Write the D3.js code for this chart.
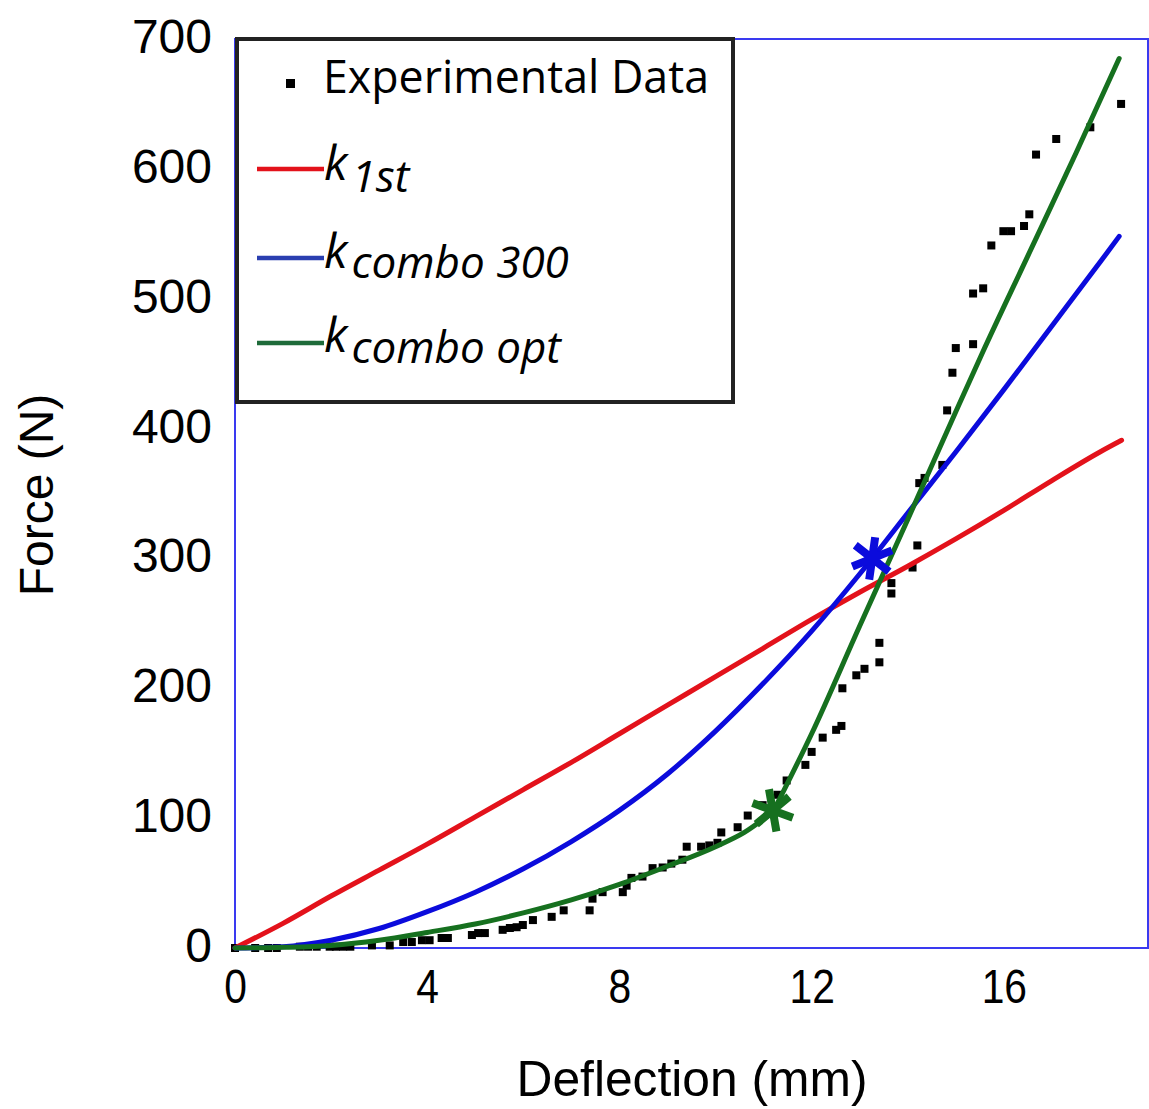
<!DOCTYPE html>
<html>
  <head>
    <script src="https://d3js.org/d3.v7.min.js"></script>
    <style>
      body { margin: 0; background: #fff; }
      .tick text { font-family: "Liberation Sans", Arial, sans-serif; fill: #000; }
      .legend text { font-family: "Open Sans", "Noto Sans", sans-serif; fill: #000; }
    </style>
  </head>
  <body>
    <svg width="1149" height="1109"></svg>
    <script>
      // tick values
      var xTicks = [0, 4, 8, 12, 16];
      var yTicks = [0, 100, 200, 300, 400, 500, 600, 700];

      // k 1st (deflection mm, force N)
      var k1stX = [0, 1, 2, 3, 4, 5, 6, 7, 8, 9, 10, 11, 12, 13, 14, 15, 16, 17, 18, 18.45];
      var k1stY = [0, 19, 40, 60, 80, 101, 122, 143, 165, 187, 209, 231, 253, 274, 294, 315, 337, 360, 382, 391];

      // k combo 300
      var combo300X = [0, 1, 2, 3, 4, 5, 6, 7, 8, 9, 10, 11, 12, 13, 14, 15, 16, 17, 18, 18.4];
      var combo300Y = [0, 1, 6, 15, 28, 43, 61, 82, 106, 134, 167, 204, 244, 288, 335, 382, 430, 479, 528, 548];

      // k combo opt (lower part up to the star, then upper part)
      var comboOptLowX = [0, 1, 2, 3, 4, 5, 6, 7, 8, 9, 10, 10.6, 11.2];
      var comboOptLowY = [0, 0.5, 2, 6, 12, 18.5, 27, 37, 49, 63, 78, 89, 105];
      var comboOptHighX = [11.2, 12, 13, 14, 15, 15.55, 16.5, 17.5, 18.4];
      var comboOptHighY = [105, 165, 248, 330, 413, 458, 533, 612, 685];

      // star markers
      var starCombo300 = [13.26, 300];
      var starComboOpt = [11.19, 106];

      // experimental data
      var expX = [0, 0.42, 0.69, 0.87, 1.35, 1.52, 1.7, 1.97, 2.1, 2.25, 2.4, 2.85, 3.22, 3.5, 3.68, 3.89, 4.05, 4.3, 4.43,
                  4.93, 5.06, 5.2, 5.57, 5.72, 5.86, 5.99, 6.2, 6.59, 6.84, 7.38, 7.44, 7.65, 8.07, 8.15, 8.25, 8.48, 8.69,
                  8.9, 9.08, 9.31, 9.4, 9.7, 9.87, 10.04, 10.12, 10.46, 10.67, 10.98, 11.29, 11.48, 11.87, 12.0, 12.23,
                  12.51, 12.62, 12.64, 12.93, 13.1, 13.41, 13.41, 13.66, 13.66, 14.1, 14.2, 14.24, 14.35, 14.72, 14.82,
                  14.93, 15.0, 15.36, 15.36, 15.57, 15.74, 15.99, 16.15, 16.42, 16.53, 16.67, 17.09, 17.8, 18.44];
      var expY = [0, 0, 0, 0, 1, 1, 1, 1, 1, 1, 1, 2, 2, 4.6, 4.6, 6, 6, 7.7, 7.7,
                  10, 11.5, 11.5, 14, 15.4, 16, 17.7, 21.5, 24, 29, 29, 38, 43, 43, 48, 54, 55, 61.5,
                  62, 65, 68, 78, 78, 79, 81, 89, 93, 102, 110, 118, 129, 141, 151, 162,
                  168, 171, 200, 210, 215, 220, 235, 273, 281, 293, 310, 358, 362, 372, 414,
                  443, 462, 465, 504, 508, 541, 552, 552, 556, 565, 611, 623, 632, 650];

      var svg = d3.select("svg");
      var mLeft = 235, mTop = 39, mRight = 1148, mBottom = 948;

      var x = d3.scaleLinear().domain([0, 19]).range([mLeft, mRight]);
      var y = d3.scaleLinear().domain([0, 700]).range([mBottom, mTop]);

      var red = "#e3121b", blue = "#0b0bdc", green = "#16701f";

      // Rahmen
      svg.append("rect")
          .attr("x", mLeft).attr("y", mTop)
          .attr("width", mRight - mLeft).attr("height", mBottom - mTop)
          .attr("fill", "none").attr("stroke", "#3a3af0").attr("stroke-width", 2);

      // Achsen
      var yAxis = svg.append("g")
          .attr("transform", "translate(" + mLeft + ",0)")
          .call(d3.axisLeft(y).tickValues(yTicks).tickSize(0).tickPadding(23));
      yAxis.select(".domain").remove();
      yAxis.selectAll("text").attr("font-size", 48).attr("dy", "0.28em");

      var xAxis = svg.append("g")
          .attr("transform", "translate(0," + mBottom + ")")
          .call(d3.axisBottom(x).tickValues(xTicks).tickSize(0).tickPadding(0));
      xAxis.select(".domain").remove();
      xAxis.selectAll("text")
          .attr("font-size", 48)
          .attr("dy", 0)
          .attr("y", 0)
          .attr("transform", "translate(0,55) scale(0.85,1)");

      // Achsentitel
      svg.append("text")
          .attr("x", 692).attr("y", 1096)
          .attr("text-anchor", "middle")
          .attr("font-family", "Liberation Sans, Arial, sans-serif")
          .attr("font-size", 50)
          .attr("textLength", 351).attr("lengthAdjust", "spacingAndGlyphs")
          .text("Deflection (mm)");
      svg.append("text")
          .attr("transform", "translate(53,495) rotate(-90)")
          .attr("text-anchor", "middle")
          .attr("font-family", "Liberation Sans, Arial, sans-serif")
          .attr("font-size", 48)
          .text("Force (N)");

      // Kurven
      var line = d3.line()
          .x(function(d) { return x(d[0]); })
          .y(function(d) { return y(d[1]); })
          .curve(d3.curveMonotoneX);
      function drawLine(xs, ys, color) {
        svg.append("path")
            .datum(d3.zip(xs, ys))
            .attr("d", line)
            .attr("fill", "none")
            .attr("stroke", color)
            .attr("stroke-width", 5)
            .attr("stroke-linejoin", "round")
            .attr("stroke-linecap", "round");
      }

      // Messpunkte
      svg.append("g").selectAll("rect")
          .data(d3.zip(expX, expY))
          .join("rect")
          .attr("x", function(d) { return x(d[0]) - 4; })
          .attr("y", function(d) { return y(d[1]) - 4; })
          .attr("width", 8).attr("height", 8)
          .attr("fill", "#000");

      drawLine(k1stX, k1stY, red);
      drawLine(combo300X, combo300Y, blue);
      drawLine(comboOptLowX, comboOptLowY, green);
      drawLine(comboOptHighX, comboOptHighY, green);

      // Sterne
      var star = d3.symbol().type(d3.symbolAsterisk).size(1300);
      svg.append("path")
          .attr("d", star)
          .attr("transform", "translate(" + x(starCombo300[0]) + "," + y(starCombo300[1]) + ") rotate(8)")
          .attr("fill", "none").attr("stroke", blue).attr("stroke-width", 8);
      svg.append("path")
          .attr("d", star)
          .attr("transform", "translate(" + x(starComboOpt[0]) + "," + y(starComboOpt[1]) + ") rotate(-10)")
          .attr("fill", "none").attr("stroke", green).attr("stroke-width", 8);

      // Legende
      var lg = svg.append("g").attr("class", "legend");
      lg.append("rect")
          .attr("x", 237).attr("y", 39).attr("width", 496).attr("height", 363)
          .attr("fill", "#fff").attr("stroke", "#222").attr("stroke-width", 4);
      lg.append("rect").attr("x", 286).attr("y", 79).attr("width", 9).attr("height", 9).attr("fill", "#000");
      lg.append("text").attr("x", 323).attr("y", 93).attr("font-size", 46)
          .attr("textLength", 386).attr("lengthAdjust", "spacingAndGlyphs")
          .text("Experimental Data");

      var legendRows = [
        { color: red, ly: 169, sub: "1st", kBase: 180, subBase: 192 },
        { color: "#2a3fb0", ly: 258, sub: "combo 300", kBase: 268, subBase: 278 },
        { color: "#1e6b3a", ly: 343, sub: "combo opt", kBase: 352, subBase: 363 }
      ];
      legendRows.forEach(function(r) {
        lg.append("line")
            .attr("x1", 257).attr("x2", 324).attr("y1", r.ly).attr("y2", r.ly)
            .attr("stroke", r.color).attr("stroke-width", 4.5);
        var t = lg.append("text").attr("font-style", "italic");
        t.append("tspan").attr("x", 324).attr("y", r.kBase).attr("font-size", 48).text("k");
        t.append("tspan").attr("y", r.subBase).attr("dx", 4).attr("font-size", 44).text(r.sub);
      });
    </script>
  </body>
</html>
